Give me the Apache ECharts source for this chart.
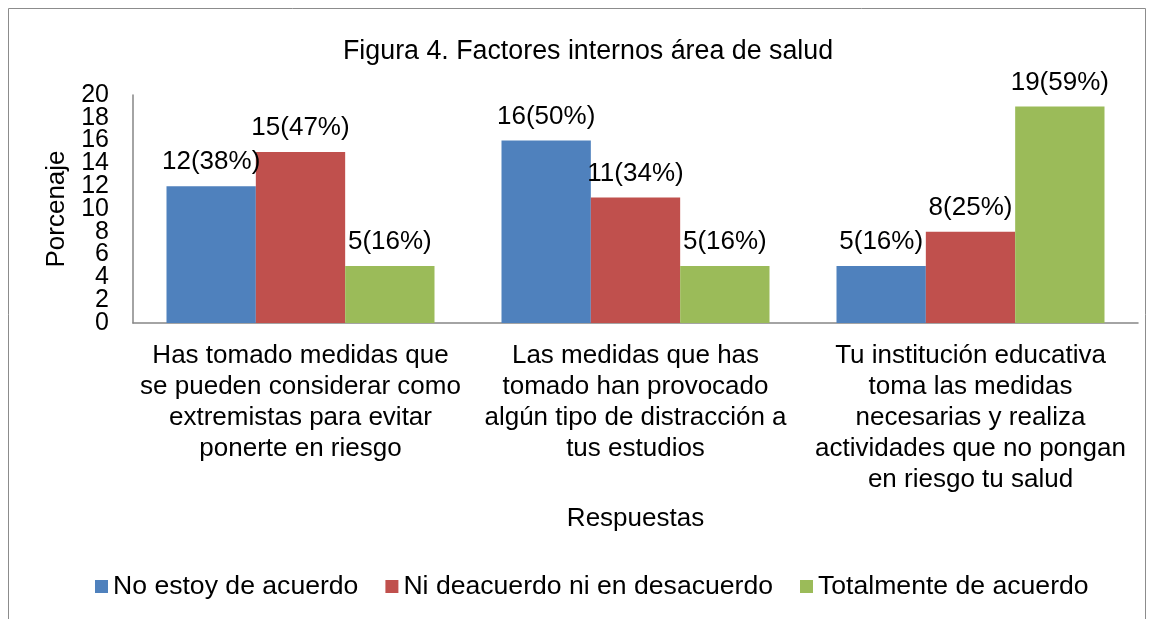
<!DOCTYPE html>
<html>
<head>
<meta charset="utf-8">
<script src="https://cdn.jsdelivr.net/npm/echarts@6/dist/echarts.min.js"></script>
<style>
  html, body { margin: 0; padding: 0; background: #fff; }
  #chart { width: 1153px; height: 619px; }
</style>
</head>
<body>
<div id="chart"></div>
<script>
const categories = [
  'Has tomado medidas que\nse pueden considerar como\nextremistas para evitar\nponerte en riesgo',
  'Las medidas que has\ntomado han provocado\nalgún tipo de distracción a\ntus estudios',
  'Tu institución educativa\ntoma las medidas\nnecesarias y realiza\nactividades que no pongan\nen riesgo tu salud'
]
const seriesNames = ['No estoy de acuerdo', 'Ni deacuerdo ni en desacuerdo', 'Totalmente de acuerdo']
const seriesColors = ['#4f81bd', '#c0504d', '#9bbb59']
const noAcuerdo = [12, 16, 5]
const niNi = [15, 11, 8]
const totalmente = [5, 5, 19]
const pctNoAcuerdo = ['38%', '50%', '16%']
const pctNiNi = ['47%', '34%', '25%']
const pctTotalmente = ['16%', '16%', '59%']

const values = [noAcuerdo, niNi, totalmente]
const pcts = [pctNoAcuerdo, pctNiNi, pctTotalmente]

const font = "'Liberation Sans', Arial, sans-serif"
const fs = 26
const chart = echarts.init(document.getElementById('chart'))

// y ticks every 2 are packed closer than the font height, so the odd
// ticks (2, 6, ... 18) go on a second, label-only axis shifted by one step
const gridTop = 95
const gridBottom = 296
const step = (619 - gridTop - gridBottom) / 10

const yLabel = {
  fontFamily: font,
  fontSize: 25,
  color: '#000',
  margin: 24,
  showMinLabel: true,
  showMaxLabel: true
}

const option = {
  animation: false,
  backgroundColor: '#fff',
  title: {
    text: 'Figura 4. Factores internos área de salud',
    left: 338,
    top: 33,
    textStyle: { fontFamily: font, fontSize: 26.8, fontWeight: 'normal', color: '#000' }
  },
  graphic: [
    {
      type: 'rect',
      shape: { x: 8.5, y: 8.5, width: 1137, height: 620 },
      style: { fill: 'none', stroke: '#8c8c8c', lineWidth: 1 },
      silent: true
    }
  ],
  legend: {
    bottom: 14,
    left: 90,
    itemWidth: 13,
    itemHeight: 13,
    itemGap: 27,
    icon: 'rect',
    textStyle: { fontFamily: font, fontSize: 26.6, color: '#000' },
    data: seriesNames
  },
  grid: [
    { left: 133, right: 15, top: gridTop, bottom: gridBottom },
    { left: 133, right: 15, top: gridTop + step, bottom: gridBottom + step }
  ],
  xAxis: [
    {
      type: 'category',
      gridIndex: 0,
      data: categories,
      name: 'Respuestas',
      nameLocation: 'middle',
      nameGap: 183,
      nameTextStyle: { fontFamily: font, fontSize: fs, color: '#000' },
      axisLine: { lineStyle: { color: '#868686', width: 1.5 } },
      axisTick: { show: false },
      axisLabel: {
        interval: 0,
        margin: 17,
        fontFamily: font,
        fontSize: fs,
        lineHeight: 31,
        color: '#000'
      }
    },
    { type: 'category', gridIndex: 1, data: categories, show: false }
  ],
  yAxis: [
    {
      type: 'value',
      gridIndex: 0,
      min: 0,
      max: 20,
      interval: 4,
      name: 'Porcenaje',
      nameLocation: 'middle',
      nameGap: 63,
      nameTextStyle: { fontFamily: font, fontSize: fs, color: '#000' },
      splitLine: { show: false },
      axisLine: { show: true, lineStyle: { color: '#868686', width: 1.5 } },
      axisTick: { show: false },
      axisLabel: yLabel
    },
    {
      type: 'value',
      gridIndex: 1,
      min: 2,
      max: 18,
      interval: 4,
      splitLine: { show: false },
      axisLine: { show: false },
      axisTick: { show: false },
      axisLabel: yLabel
    }
  ],
  series: seriesNames.map((name, i) => ({
    name,
    type: 'bar',
    xAxisIndex: 0,
    yAxisIndex: 0,
    barGap: '0%',
    barCategoryGap: '20%',
    itemStyle: { color: seriesColors[i] },
    data: values[i].map((v, j) => ({
      value: v,
      label: {
        show: true,
        position: 'top',
        distance: 11,
        fontFamily: font,
        fontSize: fs,
        color: '#000',
        formatter: v + '(' + pcts[i][j] + ')'
      }
    }))
  }))
}
chart.setOption(option)
</script>
</body>
</html>
